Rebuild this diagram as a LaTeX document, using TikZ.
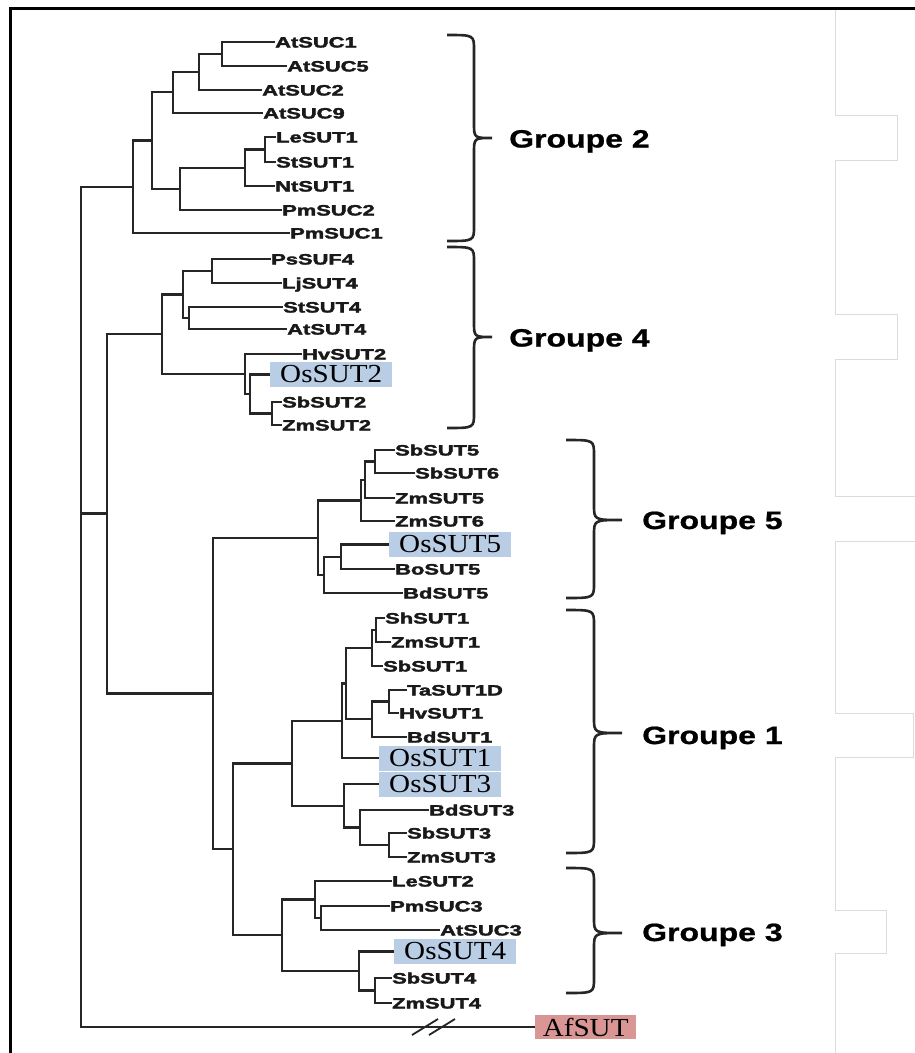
\documentclass[tikz,border=0pt]{standalone}
\usepackage{fontspec}
\setmainfont{Liberation Serif}
\newfontfamily\lsans[BoldFeatures={FakeBold=2}]{Liberation Sans}
\newfontfamily\gsans[BoldFeatures={FakeBold=0.8}]{Liberation Sans}
\definecolor{osblue}{HTML}{B9CDE5}
\definecolor{afred}{HTML}{D99694}
\definecolor{treeline}{HTML}{262626}
\definecolor{framegray}{HTML}{DCDCDC}
\newcommand{\lt}[1]{\scalebox{1.46}[1]{#1}}
\newcommand{\gt}[1]{\scalebox{1.28}[1]{#1}}
\newcommand{\ot}[1]{\scalebox{1.12}[1]{#1}}
\begin{document}
\begin{tikzpicture}[x=1pt,y=-1pt,
 leaf/.style={anchor=west, inner sep=0pt, text height=11pt, text depth=0pt, font=\lsans\bfseries\fontsize{15}{15}\selectfont, text=black!90},
 osbox/.style={anchor=west, inner sep=0pt, fill=osblue, minimum width=122pt, minimum height=25pt, font=\fontsize{26}{26}\selectfont},
 afbox/.style={osbox, fill=afred, minimum width=101pt, minimum height=24pt},
 grp/.style={anchor=west, inner sep=0pt, text height=18pt, text depth=0pt, font=\gsans\bfseries\fontsize{25}{25}\selectfont},
 branch/.style={draw=treeline, line width=2.3pt},
 brace/.style={draw=treeline, line width=2.6pt},
 pageline/.style={draw=framegray, line width=1pt}]
\useasboundingbox[fill=white] (0,0) rectangle (915,1053);

% page frame and light page lines
\draw[black, line width=3pt] (10,1053) -- (10,8) -- (915,8);
\draw[pageline] (835,10) -- (835,115) -- (897,115) -- (897,160) -- (835,160) -- (835,314) -- (897,314) -- (897,359) -- (835,359) -- (835,496) -- (915,496);
\draw[pageline] (915,541) -- (835,541) -- (835,713) -- (913,713) -- (913,757) -- (835,757) -- (835,910) -- (886,910) -- (886,953) -- (835,953) -- (835,1053);

% ---------- leaves ----------
% Groupe 2
\node[leaf] (AtSUC1) at (275,42) {\lt{AtSUC1}};
\node[leaf] (AtSUC5) at (287,66) {\lt{AtSUC5}};
\node[leaf] (AtSUC2) at (262,90) {\lt{AtSUC2}};
\node[leaf] (AtSUC9) at (263,113) {\lt{AtSUC9}};
\node[leaf] (LeSUT1) at (276,137) {\lt{LeSUT1}};
\node[leaf] (StSUT1) at (276,162) {\lt{StSUT1}};
\node[leaf] (NtSUT1) at (275,186) {\lt{NtSUT1}};
\node[leaf] (PmSUC2) at (282,210) {\lt{PmSUC2}};
\node[leaf] (PmSUC1) at (290,233) {\lt{PmSUC1}};
% Groupe 4
\node[leaf] (PsSUF4) at (271,259) {\lt{PsSUF4}};
\node[leaf] (LjSUT4) at (282,283) {\lt{LjSUT4}};
\node[leaf] (StSUT4) at (283,307) {\lt{StSUT4}};
\node[leaf] (AtSUT4) at (287,329) {\lt{AtSUT4}};
\node[leaf] (HvSUT2) at (302,354) {\lt{HvSUT2}};
\node[osbox] (OsSUT2) at (270,374.5) {\ot{OsSUT2}};
\node[leaf] (SbSUT2) at (282,402) {\lt{SbSUT2}};
\node[leaf] (ZmSUT2) at (282,425) {\lt{ZmSUT2}};
% Groupe 5
\node[leaf] (SbSUT5) at (395,450) {\lt{SbSUT5}};
\node[leaf] (SbSUT6) at (415,473) {\lt{SbSUT6}};
\node[leaf] (ZmSUT5) at (395,498) {\lt{ZmSUT5}};
\node[leaf] (ZmSUT6) at (395,521) {\lt{ZmSUT6}};
\node[osbox] (OsSUT5) at (389,544.5) {\ot{OsSUT5}};
\node[leaf] (BoSUT5) at (395,569) {\lt{BoSUT5}};
\node[leaf] (BdSUT5) at (403,593) {\lt{BdSUT5}};
% Groupe 1
\node[leaf] (ShSUT1) at (385,618) {\lt{ShSUT1}};
\node[leaf] (ZmSUT1) at (391,642) {\lt{ZmSUT1}};
\node[leaf] (SbSUT1) at (383,666) {\lt{SbSUT1}};
\node[leaf] (TaSUT1D) at (407,690) {\lt{TaSUT1D}};
\node[leaf] (HvSUT1) at (399,713) {\lt{HvSUT1}};
\node[leaf] (BdSUT1) at (407,737) {\lt{BdSUT1}};
\node[osbox] (OsSUT1) at (379,758) {\ot{OsSUT1}};
\node[osbox] (OsSUT3) at (379,784) {\ot{OsSUT3}};
\node[leaf] (BdSUT3) at (429,810) {\lt{BdSUT3}};
\node[leaf] (SbSUT3) at (407,833) {\lt{SbSUT3}};
\node[leaf] (ZmSUT3) at (407,857) {\lt{ZmSUT3}};
% Groupe 3
\node[leaf] (LeSUT2) at (392,881) {\lt{LeSUT2}};
\node[leaf] (PmSUC3) at (390,906) {\lt{PmSUC3}};
\node[leaf] (AtSUC3) at (440,930) {\lt{AtSUC3}};
\node[osbox] (OsSUT4) at (394,951.5) {\ot{OsSUT4}};
\node[leaf] (SbSUT4) at (392,978) {\lt{SbSUT4}};
\node[leaf] (ZmSUT4) at (392,1003) {\lt{ZmSUT4}};
% outgroup
\node[afbox] (AfSUT) at (535,1027) {\ot{AfSUT}};

% ---------- internal nodes ----------
\coordinate (a1) at (222,54);
\coordinate (a2) at (199,72);
\coordinate (a3) at (173,92);
\coordinate (a4) at (265,149.5);
\coordinate (a5) at (245,168);
\coordinate (a6) at (180,189);
\coordinate (a7) at (152,140.5);
\coordinate (a8) at (133,187);
\coordinate (b1) at (212,271);
\coordinate (b2) at (189,318);
\coordinate (b3) at (183,294.5);
\coordinate (b4) at (272,413.5);
\coordinate (b5) at (250,394);
\coordinate (b6) at (245,374);
\coordinate (b7) at (162,334);
\coordinate (F) at (107,513.5);
\coordinate (c1) at (375,461.5);
\coordinate (c2) at (365,480);
\coordinate (c3) at (361,500.5);
\coordinate (c4) at (341,557);
\coordinate (c5) at (324,575);
\coordinate (G) at (318,538);
\coordinate (N) at (213,693.5);
\coordinate (d1) at (376,630);
\coordinate (d2) at (372,648);
\coordinate (d3) at (389,701.5);
\coordinate (d4) at (372,719);
\coordinate (d5) at (346,683.5);
\coordinate (d6) at (342,721);
\coordinate (d7) at (389,845);
\coordinate (d8) at (360,827.5);
\coordinate (d9) at (344,806);
\coordinate (P) at (292,763.5);
\coordinate (O) at (233,849);
\coordinate (e1) at (321,918);
\coordinate (e2) at (315,899.5);
\coordinate (e3) at (375,990.5);
\coordinate (e4) at (359,971);
\coordinate (W) at (282,935);
\coordinate (root) at (81,607);

% ---------- branches ----------
\draw[branch] (a1) |- (AtSUC1.west) (a1) |- (AtSUC5.west);
\draw[branch] (a2) |- (a1) (a2) |- (AtSUC2.west);
\draw[branch] (a3) |- (a2) (a3) |- (AtSUC9.west);
\draw[branch] (a4) |- (LeSUT1.west) (a4) |- (StSUT1.west);
\draw[branch] (a5) |- (a4) (a5) |- (NtSUT1.west);
\draw[branch] (a6) |- (a5) (a6) |- (PmSUC2.west);
\draw[branch] (a7) |- (a3) (a7) |- (a6);
\draw[branch] (a8) |- (a7) (a8) |- (PmSUC1.west);

\draw[branch] (b1) |- (PsSUF4.west) (b1) |- (LjSUT4.west);
\draw[branch] (b2) |- (StSUT4.west) (b2) |- (AtSUT4.west);
\draw[branch] (b3) |- (b1) (b3) |- (b2);
\draw[branch] (b4) |- (SbSUT2.west) (b4) |- (ZmSUT2.west);
\draw[branch] (b5) |- (OsSUT2.west) (b5) |- (b4);
\draw[branch] (b6) |- (HvSUT2.west) (b6) |- (b5);
\draw[branch] (b7) |- (b3) (b7) |- (b6);
\draw[branch] (F) |- (b7) (F) |- (N);

\draw[branch] (c1) |- (SbSUT5.west) (c1) |- (SbSUT6.west);
\draw[branch] (c2) |- (c1) (c2) |- (ZmSUT5.west);
\draw[branch] (c3) |- (c2) (c3) |- (ZmSUT6.west);
\draw[branch] (c4) |- (OsSUT5.west) (c4) |- (BoSUT5.west);
\draw[branch] (c5) |- (c4) (c5) |- (BdSUT5.west);
\draw[branch] (G) |- (c3) (G) |- (c5);
\draw[branch] (N) |- (G) (N) |- (O);

\draw[branch] (d1) |- (ShSUT1.west) (d1) |- (ZmSUT1.west);
\draw[branch] (d2) |- (d1) (d2) |- (SbSUT1.west);
\draw[branch] (d3) |- (TaSUT1D.west) (d3) |- (HvSUT1.west);
\draw[branch] (d4) |- (d3) (d4) |- (BdSUT1.west);
\draw[branch] (d5) |- (d2) (d5) |- (d4);
\draw[branch] (d6) |- (d5) (d6) |- (OsSUT1.west);
\draw[branch] (d7) |- (SbSUT3.west) (d7) |- (ZmSUT3.west);
\draw[branch] (d8) |- (BdSUT3.west) (d8) |- (d7);
\draw[branch] (d9) |- (OsSUT3.west) (d9) |- (d8);
\draw[branch] (P) |- (d6) (P) |- (d9);
\draw[branch] (O) |- (P) (O) |- (W);

\draw[branch] (e1) |- (PmSUC3.west) (e1) |- (AtSUC3.west);
\draw[branch] (e2) |- (LeSUT2.west) (e2) |- (e1);
\draw[branch] (e3) |- (SbSUT4.west) (e3) |- (ZmSUT4.west);
\draw[branch] (e4) |- (OsSUT4.west) (e4) |- (e3);
\draw[branch] (W) |- (e2) (W) |- (e4);

\draw[branch] (root) |- (a8) (root) |- (F) (root) |- (AfSUT.west);
% break marks on the outgroup branch
\draw[draw=treeline, line width=1.8pt] (412,1035) -- (438,1019) (429,1035) -- (455,1019);

% ---------- braces and group labels ----------
\draw[brace] (447,35) .. controls (474,35) .. (474,50) -- (474,123) .. controls (474,138) .. (492,138) .. controls (474,138) .. (474,153) -- (474,226) .. controls (474,241) .. (447,241);
\draw[brace] (447,247) .. controls (474,247) .. (474,262) -- (474,322) .. controls (474,337) .. (492,337) .. controls (474,337) .. (474,352) -- (474,413) .. controls (474,428) .. (447,428);
\draw[brace] (566,440) .. controls (594,440) .. (594,455) -- (594,505) .. controls (594,520) .. (622,520) .. controls (594,520) .. (594,535) -- (594,583) .. controls (594,598) .. (566,598);
\draw[brace] (566,610) .. controls (594,610) .. (594,625) -- (594,718) .. controls (594,733) .. (622,733) .. controls (594,733) .. (594,748) -- (594,838) .. controls (594,853) .. (566,853);
\draw[brace] (566,868) .. controls (594,868) .. (594,883) -- (594,918) .. controls (594,933) .. (622,933) .. controls (594,933) .. (594,948) -- (594,978) .. controls (594,993) .. (566,993);

\node[grp] (g2) at (509,138.5) {\gt{Groupe 2}};
\node[grp] (g4) at (509,337.5) {\gt{Groupe 4}};
\node[grp] (g5) at (642,520) {\gt{Groupe 5}};
\node[grp] (g1) at (642,735) {\gt{Groupe 1}};
\node[grp] (g3) at (642,932) {\gt{Groupe 3}};
\end{tikzpicture}
\end{document}
